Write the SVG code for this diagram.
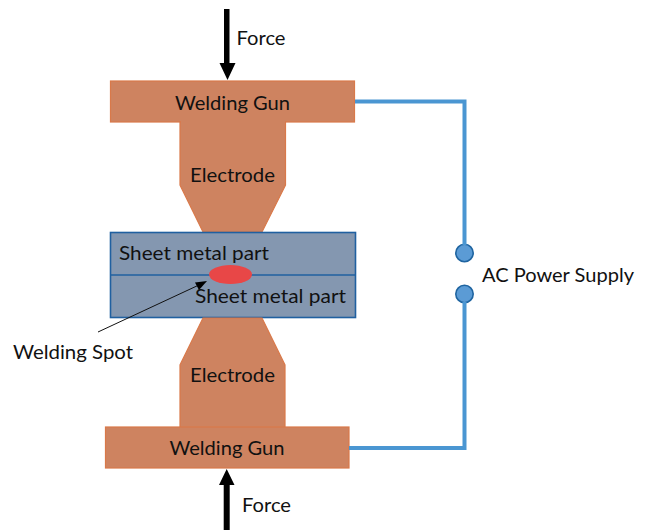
<svg xmlns="http://www.w3.org/2000/svg" width="646" height="531" viewBox="0 0 646 531">
<style>
text{font-family:"Lato","Carlito","Open Sans",sans-serif;font-size:20px;fill:#111}
.cu{fill:#ce8360;stroke:#d9794a;stroke-width:1.2}
.sheet{fill:#8497b0;stroke:#2060a0;stroke-width:1.6}
.wire{fill:none;stroke:#4a96d2;stroke-width:4}
.term{fill:#5b9bd5;stroke:#1f64a0;stroke-width:1.6}
.force{fill:#000}
</style>
<rect width="646" height="531" fill="#fff"/>
<g id="force-top">
<text x="236.500" y="45" textLength="49" lengthAdjust="spacingAndGlyphs">Force</text>
</g>
<g id="gun-top">
<rect class="cu" x="110.500" y="81" width="244" height="41"/>
<text x="175" y="109.500" textLength="115" lengthAdjust="spacingAndGlyphs">Welding Gun</text>
</g>
<g id="electrode-top">
<path class="cu" d="M180 122H285.500V185L262 232H203L180 185Z"/>
<path d="M181 120H285V124H181Z" fill="#ce8360"/>
<text x="190" y="182" textLength="85" lengthAdjust="spacingAndGlyphs">Electrode</text>
</g>
<g id="sheet-parts">
<rect class="sheet" x="110.500" y="232.500" width="245" height="85"/>
<path d="M110.500 275H355.500" stroke="#2060a0" stroke-width="1.400" fill="none"/>
<text x="119" y="260" textLength="150" lengthAdjust="spacingAndGlyphs">Sheet metal part</text>
<text x="195" y="303" textLength="151" lengthAdjust="spacingAndGlyphs">Sheet metal part</text>
</g>
<g id="welding-spot">
<ellipse cx="230.500" cy="274.500" rx="21.500" ry="9.500" fill="#e84747"/>
<text x="13" y="358.500" textLength="120" lengthAdjust="spacingAndGlyphs">Welding Spot</text>
</g>
<g id="electrode-bottom">
<path class="cu" d="M203 318H262L285 365V427H180V365Z"/>
<path d="M181 425H284V429H181Z" fill="#ce8360"/>
<text x="190" y="382" textLength="85" lengthAdjust="spacingAndGlyphs">Electrode</text>
</g>
<g id="gun-bottom">
<rect class="cu" x="105.500" y="427" width="243.500" height="41"/>
<text x="169.500" y="455" textLength="115" lengthAdjust="spacingAndGlyphs">Welding Gun</text>
</g>
<g id="force-bottom">
<text x="242" y="512" textLength="49" lengthAdjust="spacingAndGlyphs">Force</text>
</g>
<g id="ac-supply">
<circle class="term" cx="464.500" cy="253" r="8.700"/>
<circle class="term" cx="464.500" cy="294" r="8.700"/>
<text x="482" y="282" textLength="152" lengthAdjust="spacingAndGlyphs">AC Power Supply</text>
</g>
<g id="connectors">
<path class="wire" d="M355 101.500H464.500V245"/>
<path class="wire" d="M464.500 302V448H349"/>
<path d="M98 332L200 284.500" stroke="#111" stroke-width="1" fill="none"/>
<path d="M207 281L195 282.500L199 290Z" fill="#000"/>
<path class="force" d="M224 9H229.500V63H235.500L227.500 80L219.500 63H224Z"/>
<path class="force" d="M223.700 530H229.700V485H234.500L226.700 469L219 485H223.700Z"/>
</g>
</svg>
